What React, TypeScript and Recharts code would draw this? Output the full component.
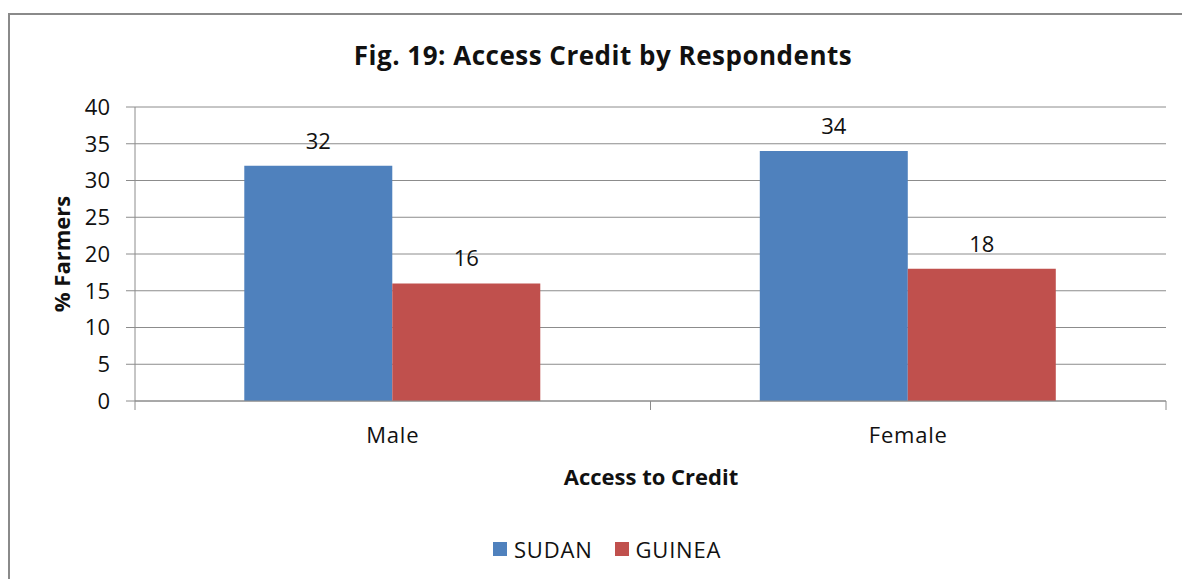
import React from "react";
import { BarChart, Bar, XAxis, YAxis, CartesianGrid, LabelList } from "recharts";

const categories = ["Male", "Female"];
const sudan = [32, 34];
const guinea = [16, 18];
const yTicks = [0, 5, 10, 15, 20, 25, 30, 35, 40];

const data = categories.map((c, i) => ({ name: c, SUDAN: sudan[i], GUINEA: guinea[i] }));

const FONT = "'Open Sans', Lato, sans-serif";
const BLUE = "#4F81BD";
const RED = "#C0504D";
const GRID = "#8c8c8c";

// category label plus tick marks on the band edges (payload.offset = half band)
function CategoryTick(props: any) {
  const { x, y, payload } = props;
  const half = payload.offset || 0;
  return (
    <g>
      <line x1={x - half} x2={x - half} y1={y} y2={y + 9} stroke={GRID} />
      <line x1={x + half} x2={x + half} y1={y} y2={y + 9} stroke={GRID} />
      <text x={x} y={y + 42} textAnchor="middle" fontSize={22} fill="#111" fontFamily={FONT} letterSpacing={0.8}>
        {payload.value}
      </text>
    </g>
  );
}

export default function App() {
  return (
    <div style={{ position: "absolute", left: 0, top: 0, width: 1182, height: 579, overflow: "hidden", background: "#fff", fontFamily: FONT, color: "#111" }}>
      <div style={{ position: "absolute", left: 8, top: 13, width: 1300, height: 700, borderTop: "2px solid #8a8a8a", borderLeft: "2px solid #8a8a8a" }} />
      <div style={{ position: "absolute", left: 0, width: 1206, top: 40, textAlign: "center", fontSize: 26, fontWeight: 700, letterSpacing: 0.5, lineHeight: "30px" }}>
        Fig. 19: Access Credit by Respondents
      </div>
      <div style={{ position: "absolute", left: 61, top: 254, transform: "translate(-50%, -50%) rotate(-90deg)", fontSize: 22, fontWeight: 700, whiteSpace: "nowrap" }}>
        % Farmers
      </div>
      <div style={{ position: "absolute", left: 0, width: 1302, top: 461, textAlign: "center", fontSize: 22, fontWeight: 700, lineHeight: "30px" }}>
        Access to Credit
      </div>
      <div style={{ position: "absolute", left: 493, top: 534, display: "flex", alignItems: "center", fontSize: 22, letterSpacing: 0.8, lineHeight: "30px" }}>
        <span style={{ width: 14, height: 14, background: BLUE, display: "inline-block", marginRight: 7 }} />
        <span>SUDAN</span>
        <span style={{ width: 14, height: 14, background: RED, display: "inline-block", marginLeft: 22, marginRight: 7 }} />
        <span>GUINEA</span>
      </div>
      <div style={{ position: "absolute", left: 0, top: 0 }}>
        <BarChart
          width={1182}
          height={579}
          data={data}
          margin={{ top: 107, right: 16, bottom: 148, left: 75 }}
          barCategoryGap="21.2%"
          barGap={0}
        >
          <CartesianGrid vertical={false} stroke={GRID} strokeWidth={1} />
          <XAxis
            dataKey="name"
            height={30}
            axisLine={{ stroke: GRID }}
            tickLine={false}
            tickSize={0}
            tickMargin={0}
            interval={0}
            tick={<CategoryTick />}
          />
          <YAxis
            width={60}
            domain={[0, 40]}
            ticks={yTicks}
            interval={0}
            axisLine={{ stroke: GRID }}
            tickLine={{ stroke: GRID }}
            tickSize={9}
            tickMargin={16}
            tick={{ fontSize: 22, fill: "#111", fontFamily: FONT }}
          />
          <Bar dataKey="SUDAN" fill={BLUE} isAnimationActive={false}>
            <LabelList dataKey="SUDAN" position="top" offset={17} style={{ fontSize: 22, fill: "#111", fontFamily: FONT }} />
          </Bar>
          <Bar dataKey="GUINEA" fill={RED} isAnimationActive={false}>
            <LabelList dataKey="GUINEA" position="top" offset={17} style={{ fontSize: 22, fill: "#111", fontFamily: FONT }} />
          </Bar>
        </BarChart>
      </div>
    </div>
  );
}
